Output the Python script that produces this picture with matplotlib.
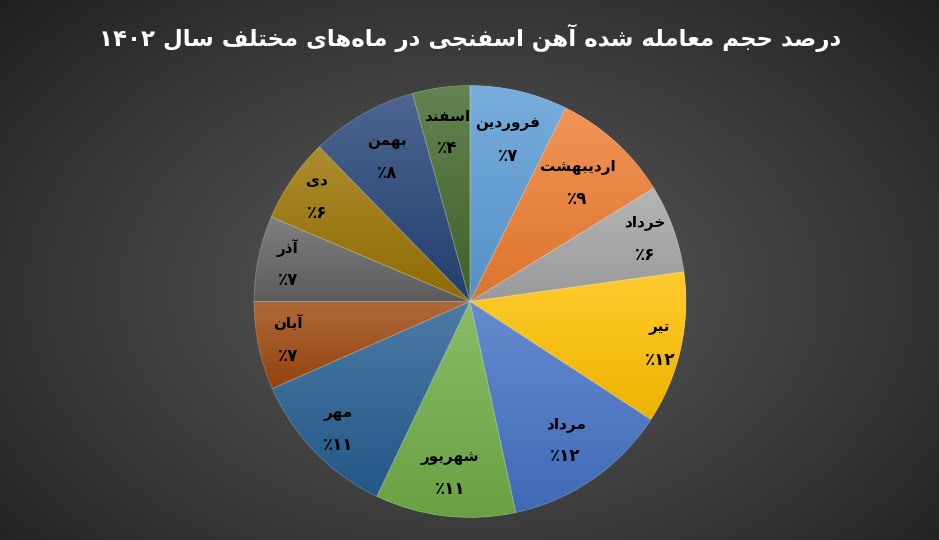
import re
import numpy as np
import matplotlib
matplotlib.use('Agg')
import matplotlib.pyplot as plt
from matplotlib.colors import to_rgb
from matplotlib.patches import Wedge

plt.rcParams['font.family'] = ['DejaVu Sans']

# داده‌ها: ماه‌های سال ۱۴۰۲ و سهم هر ماه (درصد)
months = ['فروردین', 'اردیبهشت', 'خرداد', 'تیر', 'مرداد', 'شهریور',
          'مهر', 'آبان', 'آذر', 'دی', 'بهمن', 'اسفند']
shares = [7.3, 8.9, 6.6, 11.4, 12.4, 10.5, 11.3, 6.6, 6.4, 6.3, 8.0, 4.3]
shown_pct = [7, 9, 6, 12, 12, 11, 11, 7, 7, 6, 8, 4]
title = 'درصد حجم معامله شده آهن اسفنجی در ماه\u200cهای مختلف سال ۱۴۰۲'

colors = ['#5B9BD5', '#ED7D31', '#A5A5A5', '#FFC000', '#4472C4', '#70AD47',
          '#255E91', '#9E480E', '#636363', '#997300', '#264478', '#43682B']
label_r = [0.77, 0.74, 0.86, 0.90, 0.78, 0.80, 0.85, 0.86, 0.86, 0.86, 0.77, 0.79]

# شکل‌دهی ساده حروف فارسی (matplotlib خودش حروف را نمی‌چسباند)
forms = {
    'ا': ('\uFE8D', '\uFE8E', None, None),
    'آ': ('\uFE81', '\uFE82', None, None),
    'ب': ('\uFE8F', '\uFE90', '\uFE91', '\uFE92'),
    'ت': ('\uFE95', '\uFE96', '\uFE97', '\uFE98'),
    'ج': ('\uFE9D', '\uFE9E', '\uFE9F', '\uFEA0'),
    'ح': ('\uFEA1', '\uFEA2', '\uFEA3', '\uFEA4'),
    'خ': ('\uFEA5', '\uFEA6', '\uFEA7', '\uFEA8'),
    'د': ('\uFEA9', '\uFEAA', None, None),
    'ذ': ('\uFEAB', '\uFEAC', None, None),
    'ر': ('\uFEAD', '\uFEAE', None, None),
    'ز': ('\uFEAF', '\uFEB0', None, None),
    'س': ('\uFEB1', '\uFEB2', '\uFEB3', '\uFEB4'),
    'ش': ('\uFEB5', '\uFEB6', '\uFEB7', '\uFEB8'),
    'ص': ('\uFEB9', '\uFEBA', '\uFEBB', '\uFEBC'),
    'ع': ('\uFEC9', '\uFECA', '\uFECB', '\uFECC'),
    'ف': ('\uFED1', '\uFED2', '\uFED3', '\uFED4'),
    'ل': ('\uFEDD', '\uFEDE', '\uFEDF', '\uFEE0'),
    'م': ('\uFEE1', '\uFEE2', '\uFEE3', '\uFEE4'),
    'ن': ('\uFEE5', '\uFEE6', '\uFEE7', '\uFEE8'),
    'ه': ('\uFEE9', '\uFEEA', '\uFEEB', '\uFEEC'),
    'و': ('\uFEED', '\uFEEE', None, None),
    '\u06cc': ('\uFEEF', '\uFEF0', '\uFEF3', '\uFEF4'),
    '\u064a': ('\uFEEF', '\uFEF0', '\uFEF3', '\uFEF4'),
}


def fa(s):
    out = []
    for i, c in enumerate(s):
        if c not in forms:
            out.append(c)
            continue
        prev = s[i - 1] if i > 0 else ''
        nxt = s[i + 1] if i + 1 < len(s) else ''
        jp = prev in forms and forms[prev][2] is not None
        jn = forms[c][2] is not None and nxt in forms
        iso, fin, ini, med = forms[c]
        out.append(med if (jp and jn) else fin if jp else ini if jn else iso)
    text = ''.join(out).replace('\u200c', '')
    tokens = re.findall(r'[0-9\u06f0-\u06f9]+|.', text)
    return ''.join(reversed(tokens))


def fa_num(n):
    return str(n).translate(str.maketrans('0123456789', '۰۱۲۳۴۵۶۷۸۹'))


W, H = 939, 540
fig = plt.figure(figsize=(W / 100, H / 100), dpi=100)
ax = fig.add_axes([0, 0, 1, 1])

# پس‌زمینه با گرادیان شعاعی
yy, xx = np.mgrid[0:H, 0:W]
d = np.sqrt(((xx - 470) / 620.0) ** 2 + ((yy - 290) / 420.0) ** 2)
g = np.clip(0x5a - (0x5a - 0x22) * d ** 1.1, 0x20, 0x60) / 255.0
ax.imshow(np.dstack([g, g, g]), extent=(0, W, 0, H), origin='upper', zorder=0)

cx, cy, R = 470, H - 301.5, 216
wedges, _ = ax.pie(shares, colors=colors, startangle=90, counterclock=False,
                   center=(cx, cy), radius=R,
                   wedgeprops=dict(edgecolor='none', linewidth=0))

# گرادیان عمودی داخل هر برش
for w, c in zip(wedges, colors):
    base = np.array(to_rgb(c))
    top = base + (1 - base) * 0.18
    bot = base * 0.93
    verts = w.get_path().vertices
    y0, y1 = verts[:, 1].min(), verts[:, 1].max()
    x0, x1 = verts[:, 0].min(), verts[:, 0].max()
    t = np.linspace(0, 1, 64)[:, None]
    grad = top[None, :] * (1 - t) + bot[None, :] * t
    im = ax.imshow(grad[:, None, :], extent=(x0, x1, y0, y1), origin='upper',
                   aspect='auto', zorder=w.get_zorder() + 0.1)
    im.set_clip_path(w)
    ax.add_patch(Wedge((cx, cy), R, w.theta1, w.theta2, facecolor='none',
                       edgecolor=(1, 1, 1, 0.22), linewidth=0.6,
                       zorder=w.get_zorder() + 0.2))

for w, name, p, rf in zip(wedges, months, shown_pct, label_r):
    ang = np.deg2rad((w.theta1 + w.theta2) / 2)
    lx = cx + R * rf * np.cos(ang)
    ly = cy + R * rf * np.sin(ang)
    ax.text(lx, ly + 16, fa(name), ha='center', va='center', fontsize=11,
            fontweight='bold', color='black', zorder=5)
    ax.text(lx, ly - 16, '٪' + fa_num(p), ha='center', va='center', fontsize=12,
            fontweight='bold', color='black', zorder=5)

ax.text(470, H - 38, fa(title), ha='center', va='center', fontsize=16.5,
        fontweight='bold', color='white', zorder=5)

ax.set_xlim(0, W)
ax.set_ylim(0, H)
ax.set_aspect('auto')
ax.axis('off')
fig.savefig('out.png', dpi=100)
